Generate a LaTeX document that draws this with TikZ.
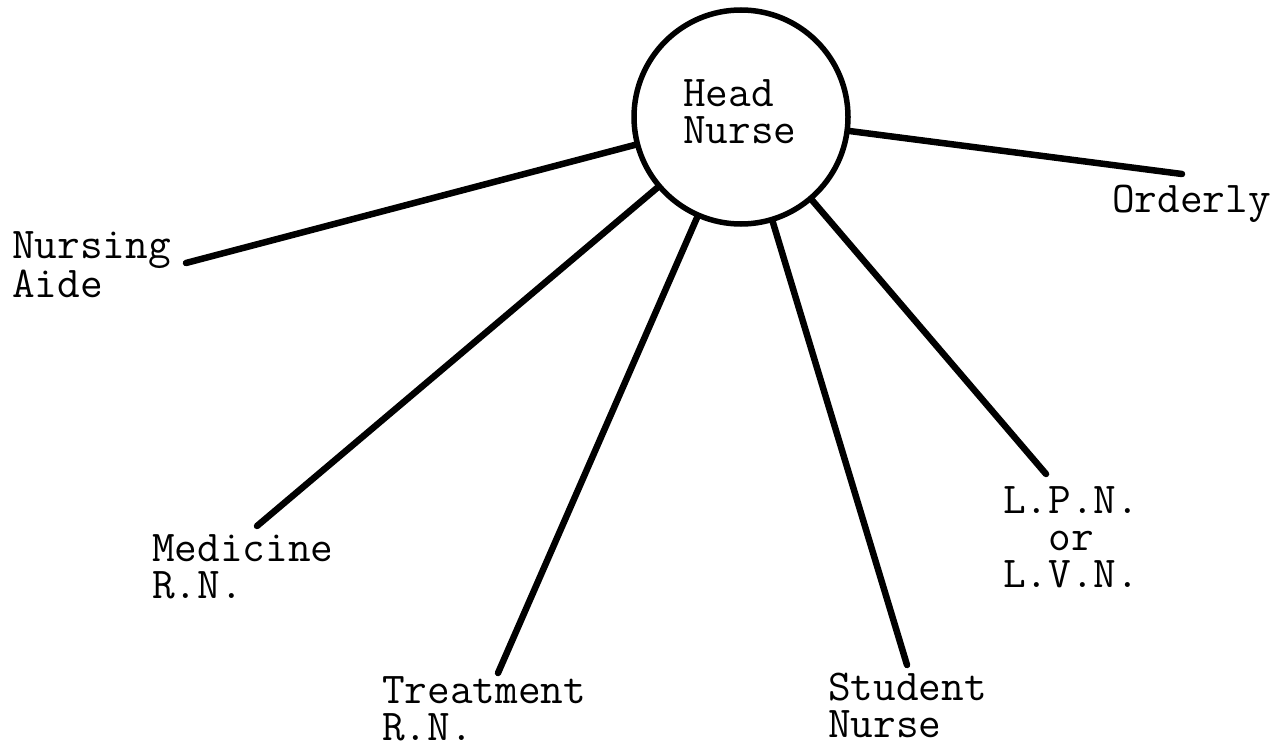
\documentclass[tikz,border=0pt]{standalone}
\usepackage{tikz}
\usetikzlibrary{shapes.geometric}

\begin{document}
\begin{tikzpicture}[x=1pt, y=-1pt,
	spoke/.style={line width=6.5pt, line cap=round},
	role/.style={font=\fontsize{44}{37}\selectfont\ttfamily, inner sep=0pt, align=left, anchor=base west}]
\useasboundingbox (0,0) rectangle (1271,749);

% Head nurse in the middle
\node[circle, draw, line width=5.5pt, minimum size=214pt, inner sep=0pt] (head) at (741,117) {};
\node[role] (headtext) at (683,143) {Head\\Nurse};

% Staff around the head nurse (anchored at the last baseline)
\node[role, font=\fontsize{44}{32}\selectfont\ttfamily] (aide) at (12,297) {Nursing\\Aide};
\node[role] (medrn) at (152,598) {Medicine\\R.N.};
\node[role] (treatrn) at (382,740) {Treatment\\R.N.};
\node[role] (student) at (828,737) {Student\\Nurse};
\node[role, align=center] (lpn) at (1003,587) {L.P.N.\\or\\L.V.N.};
\node[role] (orderly) at (1112,212) {Orderly};

% Free ends of the spokes
\coordinate (aide end) at (186,263);
\coordinate (medrn end) at (257,526);
\coordinate (treatrn end) at (498,673);
\coordinate (student end) at (907,665);
\coordinate (lpn end) at (1046,474);
\coordinate (orderly end) at (1182,174);

% Draw spokes
\foreach \who in {aide, medrn, treatrn, student, lpn, orderly}
	\draw[spoke] (head) -- (\who\space end);

\end{tikzpicture}
\end{document}
